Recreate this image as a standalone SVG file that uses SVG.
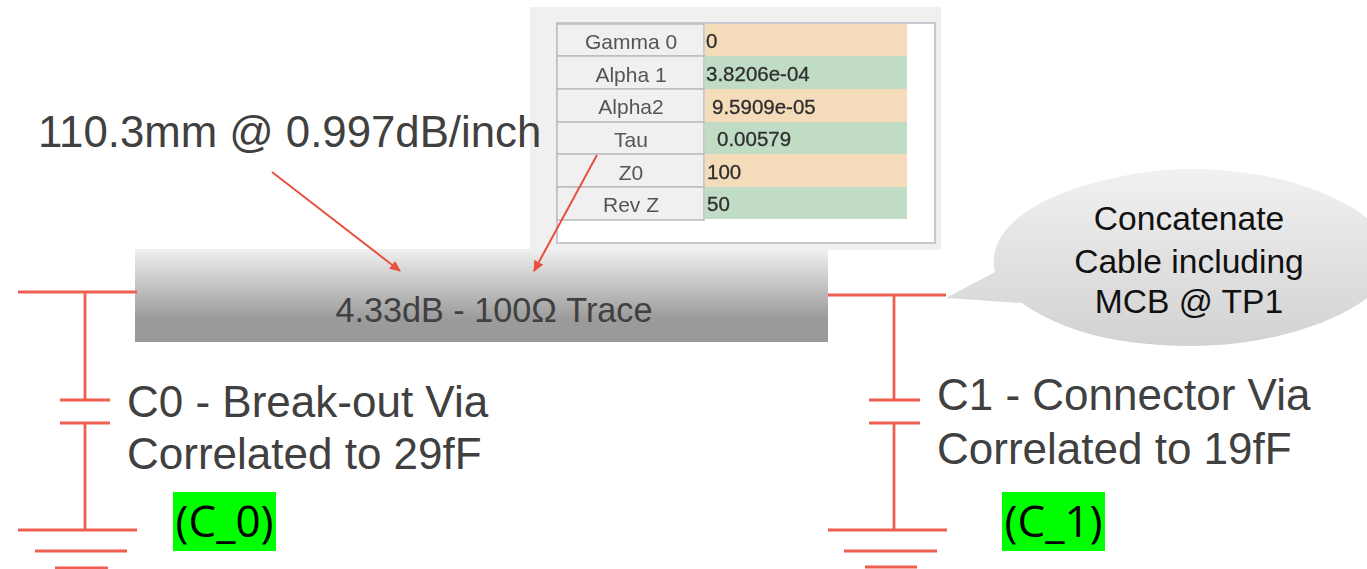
<svg xmlns="http://www.w3.org/2000/svg" width="1367" height="569" viewBox="0 0 1367 569">
<defs>
<linearGradient id="traceFill" x1="0" y1="0" x2="0" y2="1"><stop offset="0" stop-color="#f0f0f0"/><stop offset="0.75" stop-color="#9b9b9b"/><stop offset="1" stop-color="#999999"/></linearGradient>
<linearGradient id="bubbleFill" x1="0" y1="0" x2="0" y2="1"><stop offset="0" stop-color="#f1f1f1"/><stop offset="1" stop-color="#d2d2d2"/></linearGradient>
<filter id="soft" x="-5%" y="-5%" width="110%" height="110%"><feGaussianBlur stdDeviation="0.45"/></filter>
<marker id="head" markerWidth="12" markerHeight="10" refX="10" refY="5" orient="auto" markerUnits="userSpaceOnUse"><path d="M0 0L11 5L0 10Z" fill="#e8503f"/></marker>
</defs>
<style>
text{font-family:"Liberation Sans",Arial,sans-serif;fill:#404040}
.wire{stroke:#ee5f52;stroke-width:2.8;fill:none}
.pointer{stroke:#e8503f;stroke-width:2;fill:none;marker-end:url(#head)}
.big{font-size:44px}
.head{fill:#f0f0f0;stroke:#bcbcc0;stroke-width:1.5}
.hd{font-size:21px;text-anchor:middle;fill:#555}
.val{font-size:20.500px;fill:#2e2e2e;stroke:#2e2e2e;stroke-width:0.3}
.sand{fill:#f4dcbb}.sage{fill:#c1dcc4}
.tag{font-family:"Open Sans","Noto Sans",sans-serif;font-size:44px;fill:#000;text-anchor:middle}
.note{font-size:33.6px;fill:#111;text-anchor:middle}
</style>
<rect width="1367" height="569" fill="#fff"/>
<g id="trace"><rect x="135" y="249" width="693" height="93" fill="url(#traceFill)"/><text x="494" y="322" font-size="34.2" text-anchor="middle">4.33dB - 100Ω Trace</text></g>
<g id="table" filter="url(#soft)">
<rect x="530" y="7" width="411" height="243" fill="#f0f0f0"/>
<rect x="557" y="23" width="378" height="220" fill="#fff" stroke="#c8c8d0" stroke-width="2"/>
<rect class="head" x="557" y="24" width="147" height="32"/><rect class="head" x="557" y="56" width="147" height="33"/><rect class="head" x="557" y="89" width="147" height="33"/><rect class="head" x="557" y="122" width="147" height="32"/><rect class="head" x="557" y="154" width="147" height="33"/><rect class="head" x="557" y="187" width="147" height="33"/>
<rect class="sand" x="705" y="24" width="202" height="32"/><rect class="sage" x="705" y="56" width="202" height="33"/><rect class="sand" x="705" y="89" width="202" height="33"/><rect class="sage" x="705" y="122" width="202" height="32"/><rect class="sand" x="705" y="154" width="202" height="33"/><rect class="sage" x="705" y="187" width="202" height="32"/>
<text class="hd" x="631" y="49">Gamma 0</text><text class="hd" x="631" y="82">Alpha 1</text><text class="hd" x="631" y="114">Alpha2</text><text class="hd" x="631" y="147">Tau</text><text class="hd" x="631" y="180">Z0</text><text class="hd" x="631" y="212">Rev Z</text>
<text class="val" x="706" y="48">0</text><text class="val" x="706" y="81">3.8206e-04</text><text class="val" x="712" y="114">9.5909e-05</text><text class="val" x="717" y="146">0.00579</text><text class="val" x="707" y="179">100</text><text class="val" x="707" y="211">50</text>
</g>
<g id="bubble"><path d="M946 298L995 272C980 205 1110 169 1192 169C1300 169 1392 215 1392 258C1392 305 1290 346 1192 346C1115 346 1060 330 1022 303Z" fill="url(#bubbleFill)"/>
<text class="note" x="1189" y="230">Concatenate</text><text class="note" x="1189" y="273">Cable including</text><text class="note" x="1189" y="313">MCB @ TP1</text></g>
<g id="connectors">
<path class="wire" d="M18 292H137M85 292V400M60 400H110M60 423H110M85 423V530M18 530H137M35 551H127M55 568H108"/>
<path class="wire" d="M828 295H946M894 295V400M869 400H920M869 423H920M894 423V530M828 530H947M844 551H937M865 567H917"/>
<line class="pointer" x1="272" y1="172" x2="400" y2="271"/>
<line class="pointer" x1="597" y1="155" x2="534" y2="271"/>
</g>
<g id="length-label"><text x="38" y="147" font-size="43.750">110.3mm @ 0.997dB/inch</text></g>
<g id="c0"><text class="big" x="127" y="417">C0 - Break-out Via</text><text class="big" x="127" y="469">Correlated to 29fF</text></g>
<g id="c1"><text class="big" x="937" y="410">C1 - Connector Via</text><text class="big" x="937" y="464">Correlated to 19fF</text></g>
<g id="tag0"><rect x="173" y="492" width="103" height="59" fill="#00ff00"/><text class="tag" x="224.500" y="537">(C_0)</text></g>
<g id="tag1"><rect x="1002" y="492" width="103" height="59" fill="#00ff00"/><text class="tag" x="1053.500" y="537">(C_1)</text></g>
</svg>
